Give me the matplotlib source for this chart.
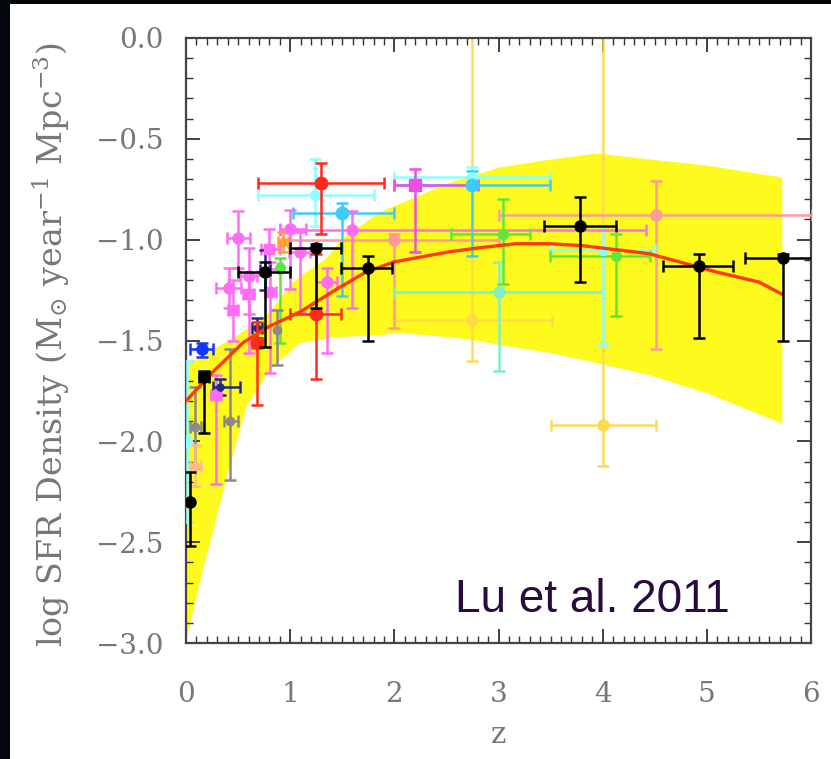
import matplotlib
matplotlib.use("Agg")
import matplotlib.pyplot as plt
from matplotlib.patches import Rectangle
from matplotlib.ticker import MultipleLocator, FuncFormatter

plt.rcParams['mathtext.fontset'] = 'dejavuserif'
plt.rcParams['font.family'] = ['DejaVu Serif']

# ---- data -------------------------------------------------------------
x_ticks = [0, 1, 2, 3, 4, 5, 6]
y_ticks = [0.0, -0.5, -1.0, -1.5, -2.0, -2.5, -3.0]

# yellow uncertainty band
band_z = [0.0, 0.1, 0.2, 0.26, 0.33, 0.4, 0.5, 0.58, 0.77, 0.83, 1.0, 1.09, 1.32, 1.41,
          1.48, 1.86, 2.05, 2.5, 2.82, 3.0, 3.5, 3.94, 4.45, 5.0, 5.72]
band_hi = [-1.62, -1.59, -1.56, -1.54, -1.52, -1.50, -1.47, -1.44, -1.37, -1.34, -1.22, -1.18,
           -1.10, -1.05, -1.00, -0.86, -0.82, -0.72, -0.67, -0.64, -0.60, -0.57, -0.60, -0.63, -0.69]
band_lo = [-2.98, -2.76, -2.55, -2.44, -2.29, -2.15, -1.97, -1.82, -1.67, -1.63, -1.55, -1.51,
           -1.49, -1.48, -1.48, -1.47, -1.46, -1.48, -1.50, -1.52, -1.56, -1.61, -1.67, -1.76, -1.91]

# fitted SFR density model
line_z = [0.0, 0.25, 0.55, 0.8, 1.09, 1.4, 1.73, 2.0, 2.53, 2.82, 3.17, 3.5, 3.81, 4.45, 5.09, 5.5, 5.72]
line_y = [-1.80, -1.66, -1.51, -1.43, -1.36, -1.26, -1.16, -1.11, -1.06, -1.04, -1.02, -1.02,
          -1.03, -1.07, -1.16, -1.21, -1.27]

# measurements: (z, logSFRD, dz_minus, dz_plus, dy_minus, dy_plus)
black_pts = [(0.17, -1.68, 0.05, 0.05, 0.28, 0.03), (0.04, -2.30, 0.0, 0.0, 0.22, 0.15),
             (0.76, -1.16, 0.26, 0.24, 0.37, 0.05), (1.25, -1.04, 0.25, 0.24, 0.30, 0.02),
             (1.75, -1.14, 0.26, 0.23, 0.36, 0.06), (3.78, -0.93, 0.34, 0.35, 0.28, 0.14),
             (4.92, -1.13, 0.34, 0.33, 0.36, 0.06), (5.73, -1.09, 0.36, 0.37, 0.41, 0.02)]
red_pts = [(1.30, -0.72, 0.61, 0.60, 0.25, 0.10), (1.25, -1.37, 0.25, 0.24, 0.32, 0.30),
           (0.68, -1.51, 0.05, 0.05, 0.31, 0.10)]
cyan_pts = [(2.75, -0.73, 0.75, 0.74, 0.35, 0.07), (1.50, -0.87, 0.47, 0.50, 0.41, 0.05)]
lightcyan_pts = [(1.24, -0.78, 0.55, 0.56, 0.15, 0.18), (2.75, -0.69, 0.75, 0.74, 0.05, 0.05),
                 (0.01, -2.00, 0.0, 0.0, 0.40, 0.40), (4.00, -1.05, 0.50, 0.50, 0.47, 0.12)]
aqua_pts = [(3.00, -1.26, 1.00, 1.00, 0.39, 0.15)]
magenta_pts = [(1.59, -0.95, 0.69, 2.83, 0.39, 0.09), (1.35, -1.21, 0.10, 0.10, 0.35, 0.07),
               (1.00, -0.945, 0.10, 0.15, 0.30, 0.09), (0.50, -0.99, 0.11, 0.11, 0.15, 0.13),
               (0.41, -1.24, 0.12, 0.12, 0.10, 0.10), (0.60, -1.18, 0.08, 0.08, 0.38, 0.14),
               (0.81, -1.26, 0.05, 0.05, 0.40, 0.15), (0.29, -1.77, 0.05, 0.05, 0.44, 0.10),
               (1.09, -1.06, 0.10, 0.10, 0.30, 0.10)]
magenta_sq = [(0.80, -1.045, 0.08, 0.10, 0.10, 0.10), (0.45, -1.35, 0.05, 0.05, 0.15, 0.15),
              (0.60, -1.27, 0.05, 0.05, 0.10, 0.10)]
violet_pts = [(2.20, -0.73, 0.20, 0.60, 0.33, 0.08)]
blue_pts = [(0.15, -1.54, 0.11, 0.11, 0.04, 0.03)]
navy_pts = [(0.33, -1.73, 0.07, 0.19, 0.04, 0.04), (0.76, -1.15, 0.05, 0.05, 0.10, 0.10),
            (0.68, -1.44, 0.05, 0.05, 0.05, 0.05)]
gray_pts = [(0.42, -1.90, 0.06, 0.08, 0.29, 0.36), (0.09, -1.93, 0.05, 0.05, 0.20, 0.20),
            (0.87, -1.45, 0.0, 0.0, 0.17, 0.10)]
green_pts = [(0.90, -1.14, 0.02, 0.02, 0.37, 0.05), (3.04, -0.97, 0.50, 0.26, 0.25, 0.17),
             (4.13, -1.08, 0.64, 0.32, 0.30, 0.11)]
salmon_pts = [(4.51, -0.88, 1.51, 1.50, 0.66, 0.17), (2.00, -1.00, 1.00, 1.00, 0.44, 0.03)]
gold_pts = [(2.75, -1.40, 0.75, 0.76, 0.20, 1.50), (4.00, -1.92, 0.50, 0.51, 0.20, 2.00)]
peach_pts = [(0.09, -2.12, 0.05, 0.05, 0.10, 0.10)]
orange_pts = [(0.93, -1.01, 0.05, 0.05, 0.05, 0.05)]

# ---- figure ---------------------------------------------------------------
W, H = 831, 759
fig = plt.figure(figsize=(W / 100, H / 100), dpi=100, facecolor='white')
dark = '#03070d'
fig.patches.append(Rectangle((0, 0), 10 / W, 1, transform=fig.transFigure,
                             facecolor=dark, edgecolor='none', zorder=-10))
fig.patches.append(Rectangle((0, 1 - 4 / H), 1, 4 / H, transform=fig.transFigure,
                             facecolor=dark, edgecolor='none', zorder=-10))
ax = fig.add_axes([186 / W, 1 - 643 / H, (811 - 186) / W, (643 - 38) / H])

ax.fill_between(band_z, band_lo, band_hi, color='#FFFA1E', lw=0, zorder=1)
ax.plot(line_z, line_y, color='#FF3A00', lw=2.4, zorder=5)


def draw(points, color, marker='o', ms=7, alpha=1.0, z=3):
    for (zz, yy, xm, xp, ym, yp) in points:
        ax.errorbar([zz], [yy], xerr=[[xm], [xp]], yerr=[[ym], [yp]], fmt=marker,
                    color=color, ms=ms, lw=1.8, capsize=4, capthick=1.8,
                    alpha=alpha, zorder=z)


draw(gold_pts, '#FFD84A', ms=8, alpha=0.9, z=2)
draw(salmon_pts, '#FF9A9A', ms=8)
draw(aqua_pts, '#80F0C8', ms=8)
draw(lightcyan_pts, '#8CFFFF', ms=7)
draw(cyan_pts, '#3FCBFA', ms=9)
draw(magenta_pts, '#FF6CF5', ms=8)
draw(magenta_sq, '#FF6CF5', marker='s', ms=7)
draw(violet_pts, '#EE4FE0', marker='s', ms=9)
draw(green_pts, '#5BE83A', ms=7)
draw(gray_pts, '#8A8A8A', ms=6)
draw(peach_pts, '#FFB98A', ms=6)
draw(orange_pts, '#FFA030', ms=6)
draw(navy_pts, '#1E2A8A', ms=5)
draw(blue_pts, '#1434FF', ms=8)
draw(red_pts, '#FF2A1A', ms=9, z=4)
draw(black_pts, '#000000', ms=8, z=6)

ax.set_xlim(0, 6)
ax.set_ylim(-3.0, 0.0)
ax.set_xticks(x_ticks)
ax.set_yticks(y_ticks)
ax.xaxis.set_minor_locator(MultipleLocator(0.1))
ax.yaxis.set_minor_locator(MultipleLocator(0.1))
ax.xaxis.set_major_formatter(FuncFormatter(lambda v, p: '%d' % round(v)))
ax.yaxis.set_major_formatter(FuncFormatter(lambda v, p: ('%.1f' % v).replace('-', '\u2212')))

tc = '#777777'
ax.tick_params(which='both', direction='in', top=True, right=True, color='#333333')
ax.tick_params(which='major', length=10, width=1.3, labelsize=20, labelcolor=tc)
ax.tick_params(which='minor', length=5, width=1.0)
ax.tick_params(axis='y', which='major', pad=16)
ax.tick_params(axis='x', which='major', pad=27)
for s in ax.spines.values():
    s.set_color('#444444')
    s.set_linewidth(1.6)

fig.text(498 / W, 1 - 735 / H, 'z', ha='center', va='center', fontsize=21, color=tc)
fig.text(51 / W, 1 - 345 / H,
         r'log SFR Density (M$_{\odot}$ year$^{-1}$ Mpc$^{-3}$)',
         rotation=90, ha='center', va='center', fontsize=24, color=tc)

fig.text(592 / W, 1 - 600 / H, 'Lu et al. 2011', ha='center', va='center',
         fontsize=33, family='Liberation Sans', color='#2B0B3F')

fig.savefig('out.png', dpi=100)
